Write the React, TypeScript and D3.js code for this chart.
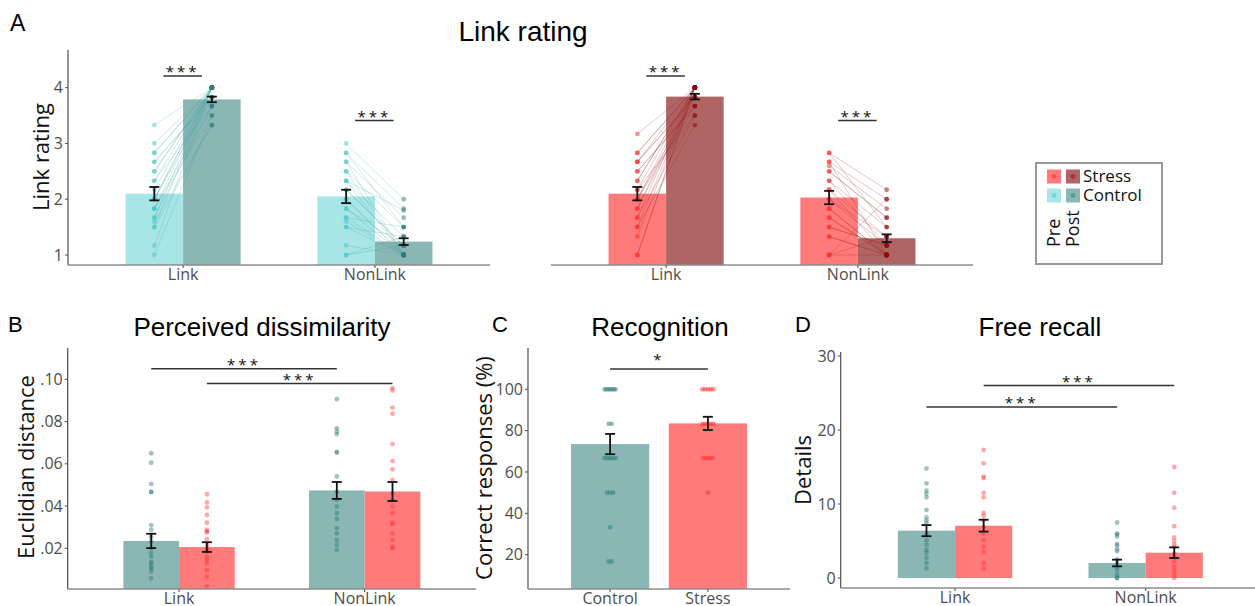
import React from 'react';
import * as d3 from 'd3';

const W = 1255;
const H = 606;

const conditions = ['Link', 'NonLink'];
const phases = ['Pre', 'Post'];
const groups = ['Control', 'Stress'];

// --- A: link rating, paired pre/post per participant ---
const ctrlLinkPre = [3.33, 3.0, 2.83, 2.67, 2.5, 2.33, 2.17, 2.0, 2.0, 1.83, 1.83, 1.67, 1.67, 1.5, 1.5, 1.17, 1.0, 2.33, 2.67, 2.0, 1.83, 2.5, 1.6, 2.83];
const ctrlLinkPost = [4, 4, 4, 3.83, 4, 3.67, 4, 4, 3.83, 4, 3.5, 4, 3.67, 4, 3.33, 4, 3.5, 4, 3.83, 4, 3.67, 4, 3.33, 4];
const ctrlNonLinkPre = [3.0, 2.83, 2.67, 2.5, 2.33, 2.17, 2.0, 1.83, 1.67, 1.6, 1.5, 1.17, 1.0, 2.83, 2.5, 2.33, 1.83, 1.0, 2.67, 2.0, 1.5, 1.67, 2.17, 2.33];
const ctrlNonLinkPost = [2.0, 1.83, 1.67, 1.5, 1.33, 1.17, 1.0, 1.0, 1.0, 1.0, 1.33, 1.0, 1.17, 1.5, 1.0, 1.0, 1.17, 1.33, 1.0, 1.0, 1.0, 1.5, 1.17, 1.8];
const stressLinkPre = [3.17, 2.83, 2.67, 2.67, 2.5, 2.33, 2.17, 2.0, 1.83, 1.67, 1.5, 1.33, 1.0, 2.5, 2.33, 2.0, 1.83, 1.67, 1.5, 2.17, 2.67, 2.83, 1.0, 2.0];
const stressLinkPost = [4, 4, 3.83, 4, 3.67, 4, 3.5, 4, 3.83, 4, 3.33, 4, 4, 3.67, 4, 3.83, 4, 3.5, 4, 4, 3.83, 4, 4, 3.67];
const stressNonLinkPre = [2.83, 2.67, 2.6, 2.5, 2.33, 2.17, 2.0, 1.83, 1.67, 1.5, 1.33, 1.0, 2.83, 2.67, 2.33, 2.0, 1.83, 1.67, 1.5, 1.0, 2.5, 2.17, 1.33, 1.0];
const stressNonLinkPost = [2.17, 2.0, 1.83, 1.67, 1.5, 1.33, 1.17, 1.0, 1.0, 1.17, 1.0, 1.33, 1.5, 1.0, 1.17, 1.33, 1.0, 1.0, 1.17, 1.0, 1.67, 1.0, 1.0, 2.0];

const ratingCtrlPreMean = [2.1, 2.05];
const ratingCtrlPostMean = [3.79, 1.24];
const ratingStressPreMean = [2.1, 2.03];
const ratingStressPostMean = [3.84, 1.3];
const ratingCtrlPreSem = [0.12, 0.12];
const ratingCtrlPostSem = [0.05, 0.06];
const ratingStressPreSem = [0.12, 0.12];
const ratingStressPostSem = [0.05, 0.07];
const ratingSigLevel = [4.21, 3.41];
const ratingTicks = [1, 2, 3, 4];

// --- B: perceived dissimilarity ---
const dissimCtrlLink = [0.065, 0.0605, 0.0505, 0.0467, 0.0467, 0.031, 0.0288, 0.0255, 0.0232, 0.02, 0.0178, 0.016, 0.0135, 0.0128, 0.0112, 0.0105, 0.009, 0.0058];
const dissimStressLink = [0.0456, 0.0417, 0.0394, 0.0358, 0.0321, 0.0287, 0.028, 0.0276, 0.0243, 0.0216, 0.02, 0.019, 0.0185, 0.0161, 0.0145, 0.0129, 0.0098, 0.0066, 0.0022];
const dissimCtrlNonLink = [0.0906, 0.0768, 0.0753, 0.0741, 0.0657, 0.0653, 0.054, 0.0468, 0.0429, 0.0397, 0.0366, 0.0339, 0.0295, 0.0271, 0.024, 0.0216, 0.0192];
const dissimStressNonLink = [0.0958, 0.0947, 0.0866, 0.0837, 0.0694, 0.0613, 0.0574, 0.0524, 0.0461, 0.0429, 0.0397, 0.0366, 0.0321, 0.0315, 0.0271, 0.024, 0.0208, 0.02];
const dissimCtrlMean = [0.0235, 0.0474];
const dissimStressMean = [0.0206, 0.0469];
const dissimCtrlSem = [0.0034, 0.004];
const dissimStressSem = [0.0023, 0.0045];
const dissimTicks = [0.02, 0.04, 0.06, 0.08, 0.1];

// --- C: recognition ---
const recogControl = [100, 100, 100, 100, 100, 100, 100, 83.3, 83.3, 66.7, 66.7, 66.7, 66.7, 66.7, 50, 50, 50, 33.3, 16.7, 16.7];
const recogStress = [100, 100, 100, 100, 100, 83.3, 83.3, 83.3, 83.3, 83.3, 66.7, 66.7, 66.7, 66.7, 50];
const recogMean = [73.5, 83.5];
const recogSem = [4.9, 3.2];
const recogTicks = [20, 40, 60, 80, 100];

// --- D: free recall ---
const recallCtrlLink = [14.8, 12.8, 11.8, 11.4, 10.9, 9.2, 8.2, 7.8, 7.4, 6.0, 5.1, 4.5, 3.8, 3.4, 2.7, 2.0, 1.3];
const recallStressLink = [17.3, 15.5, 13.7, 13.5, 11.5, 10.9, 8.8, 8.4, 7.8, 6.9, 6.0, 5.1, 4.2, 3.5, 2.0, 1.3];
const recallCtrlNonLink = [7.5, 6.0, 5.9, 5.6, 4.6, 4.4, 3.9, 3.6, 2.5, 2.0, 1.5, 1.1, 0.5, 0, 0];
const recallStressNonLink = [15.0, 11.5, 9.5, 7.0, 5.5, 5.0, 4.5, 4.2, 3.3, 2.8, 2.2, 1.5, 1.0, 0.5, 0];
const recallCtrlMean = [6.4, 2.03];
const recallStressMean = [7.07, 3.42];
const recallCtrlSem = [0.75, 0.45];
const recallStressSem = [0.8, 0.72];
const recallTicks = [0, 10, 20, 30];

const LBL = "'Open Sans', 'DejaVu Sans', sans-serif";
const TTL = "'Liberation Sans', Arial, sans-serif";

const CTRL_PRE = '#a7e5e6';
const CTRL_BAR = '#8ab6b4';
const STRESS_BAR = '#ff7b7b';
const STRESS_POST = '#b06565';
const CTRL_PRE_PT = '#48c6c8';
const CTRL_PT = '#2d7b78';
const STRESS_PT = '#ff2a2a';
const STRESS_POST_PT = '#8b0a0a';

function YAxis({ y, x, top, bottom, ticks, fmt }) {
  return (
    <g>
      <line x1={x} x2={x} y1={top} y2={bottom} stroke="#4d4d4d" strokeWidth={1.2} />
      {ticks.map(t => (
        <g key={t}>
          <line x1={x - 3} x2={x} y1={y(t)} y2={y(t)} stroke="#4d4d4d" strokeWidth={1} />
          <text x={x - 5} y={y(t)} dy="0.35em" textAnchor="end" fontFamily={LBL} fontSize={16} fill="#4d4d4d">{fmt(t)}</text>
        </g>
      ))}
    </g>
  );
}

function XAxis({ band, y, x1, x2 }) {
  return (
    <g>
      <line x1={x1} x2={x2} y1={y} y2={y} stroke="#8c8c8c" strokeWidth={1.5} />
      {band.domain().map(d => {
        const cx = band(d) + band.bandwidth() / 2;
        return (
          <g key={d}>
            <line x1={cx} x2={cx} y1={y} y2={y + 3} stroke="#4d4d4d" />
            <text x={cx} y={y + 15} textAnchor="middle" fontFamily={LBL} fontSize={16} fill="#4d4d4d">{d}</text>
          </g>
        );
      })}
    </g>
  );
}

function ErrBar({ x, y, m, s }) {
  const a = y(m - s), b = y(m + s);
  return (
    <g stroke="#111" strokeWidth={1.8}>
      <line x1={x} x2={x} y1={a} y2={b} />
      <line x1={x - 5} x2={x + 5} y1={a} y2={a} />
      <line x1={x - 5} x2={x + 5} y1={b} y2={b} />
    </g>
  );
}

function Sig({ xa, xb, yy, label, off = 1 }) {
  return (
    <g>
      <line x1={xa} x2={xb} y1={yy} y2={yy} stroke="#333" strokeWidth={1.5} />
      <text x={(xa + xb) / 2} y={yy + off} textAnchor="middle" fontFamily={LBL} fontSize={15} letterSpacing={3} fill="#111">{label}</text>
    </g>
  );
}

function RatingPanel({ x0, x1, pre, post, preMean, postMean, preSem, postSem, cols, showY }) {
  const outer = d3.scaleBand().domain(conditions).range([x0, x1]).paddingInner(0.4).paddingOuter(0.3);
  const inner = d3.scaleBand().domain(phases).range([0, outer.bandwidth()]);
  const y = d3.scaleLinear().domain([1, 4]).range([255, 87.7]);
  const axisY = 265;
  return (
    <g>
      {conditions.map((c, ci) => {
        const bx = outer(c);
        const px = bx + inner('Pre') + inner.bandwidth() / 2;
        const qx = bx + inner('Post') + inner.bandwidth() / 2;
        return (
          <g key={c}>
            <rect x={bx + inner('Pre')} width={inner.bandwidth()} y={y(preMean[ci])} height={axisY - y(preMean[ci])} fill={cols.preBar} />
            <rect x={bx + inner('Post')} width={inner.bandwidth()} y={y(postMean[ci])} height={axisY - y(postMean[ci])} fill={cols.postBar} />
            {pre[ci].map((v, i) => (
              <line key={'l' + i} x1={px} x2={qx} y1={y(v)} y2={y(post[ci][i])} stroke={cols.line} strokeOpacity={0.3} strokeWidth={0.8} />
            ))}
            {pre[ci].map((v, i) => <circle key={'p' + i} cx={px} cy={y(v)} r={2.4} fill={cols.prePt} fillOpacity={0.5} />)}
            {post[ci].map((v, i) => <circle key={'q' + i} cx={qx} cy={y(v)} r={2.4} fill={cols.postPt} fillOpacity={0.5} />)}
            <ErrBar x={px} y={y} m={preMean[ci]} s={preSem[ci]} />
            <ErrBar x={qx} y={y} m={postMean[ci]} s={postSem[ci]} />
            <Sig xa={px + 9} xb={qx - 10} yy={y(ratingSigLevel[ci])} label="***" />
          </g>
        );
      })}
      {showY && <YAxis y={y} x={x0} top={50} bottom={axisY} ticks={ratingTicks} fmt={d => String(d)} />}
      <XAxis band={outer} y={axisY} x1={x0} x2={x1} />
    </g>
  );
}

function GroupPanel({ x0, x1, y, axisY, top, ticks, fmt, ctrlPts, stressPts, ctrlMean, stressMean, ctrlSem, stressSem, sigs }) {
  const outer = d3.scaleBand().domain(conditions).range([x0, x1]).paddingInner(0.4).paddingOuter(0.3);
  const inner = d3.scaleBand().domain(groups).range([0, outer.bandwidth()]);
  const cx = (c, g) => outer(c) + inner(g) + inner.bandwidth() / 2;
  const base = Math.min(axisY, y(0));
  return (
    <g>
      {conditions.map((c, ci) => (
        <g key={c}>
          <rect x={outer(c) + inner('Control')} width={inner.bandwidth()} y={y(ctrlMean[ci])} height={base - y(ctrlMean[ci])} fill={CTRL_BAR} />
          <rect x={outer(c) + inner('Stress')} width={inner.bandwidth()} y={y(stressMean[ci])} height={base - y(stressMean[ci])} fill={STRESS_BAR} />
          {ctrlPts[ci].map((v, i) => <circle key={'c' + i} cx={cx(c, 'Control')} cy={y(v)} r={2.4} fill={CTRL_PT} fillOpacity={0.45} />)}
          {stressPts[ci].map((v, i) => <circle key={'s' + i} cx={cx(c, 'Stress')} cy={y(v)} r={2.4} fill={STRESS_PT} fillOpacity={0.4} />)}
          <ErrBar x={cx(c, 'Control')} y={y} m={ctrlMean[ci]} s={ctrlSem[ci]} />
          <ErrBar x={cx(c, 'Stress')} y={y} m={stressMean[ci]} s={stressSem[ci]} />
        </g>
      ))}
      {sigs.map((s, i) => (
        <Sig key={i} xa={cx('Link', s.g)} xb={cx('NonLink', s.g)} yy={y(s.v)} label="***" />
      ))}
      <YAxis y={y} x={x0} top={top} bottom={axisY} ticks={ticks} fmt={fmt} />
      <XAxis band={outer} y={axisY} x1={x0} x2={x1} />
    </g>
  );
}

function RecogPanel() {
  const x = d3.scaleBand().domain(groups).range([528, 790]).paddingInner(0.2).paddingOuter(0.44);
  const y = d3.scaleLinear().domain([0, 100]).range([596, 389.3]);
  const axisY = 589;
  const pts = [recogControl, recogStress];
  const cols = [[CTRL_BAR, CTRL_PT], [STRESS_BAR, STRESS_PT]];
  return (
    <g>
      {groups.map((g, gi) => {
        const c = x(g) + x.bandwidth() / 2;
        const counts = d3.rollup(pts[gi], v => v.length, d => d);
        const seen = new Map();
        return (
          <g key={g}>
            <rect x={x(g)} width={x.bandwidth()} y={y(recogMean[gi])} height={axisY - y(recogMean[gi])} fill={cols[gi][0]} />
            {pts[gi].map((v, i) => {
              const k = seen.get(v) || 0;
              seen.set(v, k + 1);
              const n = counts.get(v);
              const dx = (k - (n - 1) / 2) * Math.min(3, 11 / Math.max(1, n - 1));
              return <circle key={i} cx={c + dx} cy={y(v)} r={2.4} fill={cols[gi][1]} fillOpacity={0.5} />;
            })}
            <ErrBar x={c} y={y} m={recogMean[gi]} s={recogSem[gi]} />
          </g>
        );
      })}
      <Sig xa={x('Control') + x.bandwidth() / 2} xb={x('Stress') + x.bandwidth() / 2} yy={y(109.8)} label="*" off={-4} />
      <YAxis y={y} x={528} top={348} bottom={axisY} ticks={recogTicks} fmt={d => String(d)} />
      <XAxis band={x} y={axisY} x1={528} x2={790} />
    </g>
  );
}

function Legend() {
  const rows = [
    { label: 'Stress', pre: [STRESS_BAR, STRESS_PT], post: [STRESS_POST, STRESS_POST_PT] },
    { label: 'Control', pre: [CTRL_PRE, CTRL_PRE_PT], post: [CTRL_BAR, CTRL_PT] },
  ];
  return (
    <g>
      <rect x={1036} y={163} width={126} height={101} fill="#fff" stroke="#999" strokeWidth={2} />
      {rows.map((r, i) => {
        const ty = 169.5 + i * 19;
        return (
          <g key={r.label}>
            <rect x={1047} y={ty} width={14} height={14} fill={r.pre[0]} />
            <circle cx={1054} cy={ty + 7} r={2.4} fill={r.pre[1]} fillOpacity={0.5} />
            <rect x={1066} y={ty} width={14} height={14} fill={r.post[0]} />
            <circle cx={1073} cy={ty + 7} r={2.4} fill={r.post[1]} fillOpacity={0.5} />
            <text x={1083} y={ty + 12.5} fontFamily={LBL} fontSize={17} fill="#111">{r.label}</text>
          </g>
        );
      })}
      <text transform="translate(1060,247) rotate(-90)" fontFamily={LBL} fontSize={18} fill="#111">Pre</text>
      <text transform="translate(1079,247) rotate(-90)" fontFamily={LBL} fontSize={18} fill="#111">Post</text>
    </g>
  );
}

export default function App() {
  const yB = d3.scaleLinear().domain([0, 0.1]).range([590.6, 379.3]);
  const yD = d3.scaleLinear().domain([0, 30]).range([578, 356]);
  return (
    <svg width={W} height={H} style={{ position: 'absolute', left: 0, top: 0, background: '#fff' }}>
      <rect width={W} height={H} fill="#fff" />
      <text x={10} y={31} fontFamily={TTL} fontSize={23} fill="#000">A</text>
      <text x={523} y={41} textAnchor="middle" fontFamily={TTL} fontSize={28} fill="#000">Link rating</text>
      <text transform="translate(49,157) rotate(-90)" textAnchor="middle" fontFamily={LBL} fontSize={22} fill="#111">Link rating</text>
      <RatingPanel x0={68} x1={490}
        pre={[ctrlLinkPre, ctrlNonLinkPre]} post={[ctrlLinkPost, ctrlNonLinkPost]}
        preMean={ratingCtrlPreMean} postMean={ratingCtrlPostMean} preSem={ratingCtrlPreSem} postSem={ratingCtrlPostSem}
        cols={{ preBar: CTRL_PRE, postBar: CTRL_BAR, prePt: CTRL_PRE_PT, postPt: CTRL_PT, line: '#3a9f9f' }} showY />
      <RatingPanel x0={551} x1={973}
        pre={[stressLinkPre, stressNonLinkPre]} post={[stressLinkPost, stressNonLinkPost]}
        preMean={ratingStressPreMean} postMean={ratingStressPostMean} preSem={ratingStressPreSem} postSem={ratingStressPostSem}
        cols={{ preBar: STRESS_BAR, postBar: STRESS_POST, prePt: STRESS_PT, postPt: STRESS_POST_PT, line: '#9a1a1a' }} showY={false} />
      <Legend />

      <text x={8} y={332} fontFamily={TTL} fontSize={22} fill="#000">B</text>
      <text x={262} y={336} textAnchor="middle" fontFamily={TTL} fontSize={26} fill="#000">Perceived dissimilarity</text>
      <text transform="translate(34,467) rotate(-90)" textAnchor="middle" fontFamily={LBL} fontSize={22} fill="#111">Euclidian distance</text>
      <GroupPanel x0={67.7} x1={476} y={yB} axisY={589} top={348} ticks={dissimTicks}
        fmt={d => d3.format('.2f')(d).replace(/^0/, '')}
        ctrlPts={[dissimCtrlLink, dissimCtrlNonLink]} stressPts={[dissimStressLink, dissimStressNonLink]}
        ctrlMean={dissimCtrlMean} stressMean={dissimStressMean} ctrlSem={dissimCtrlSem} stressSem={dissimStressSem}
        sigs={[{ g: 'Control', v: 0.105 }, { g: 'Stress', v: 0.098 }]} />

      <text x={492} y={332} fontFamily={TTL} fontSize={22} fill="#000">C</text>
      <text x={660} y={336} textAnchor="middle" fontFamily={TTL} fontSize={26} fill="#000">Recognition</text>
      <text transform="translate(492,468) rotate(-90)" textAnchor="middle" fontFamily={LBL} fontSize={22} fill="#111">Correct responses (%)</text>
      <RecogPanel />

      <text x={795} y={332} fontFamily={TTL} fontSize={22} fill="#000">D</text>
      <text x={1040} y={336} textAnchor="middle" fontFamily={TTL} fontSize={26} fill="#000">Free recall</text>
      <text transform="translate(811,470) rotate(-90)" textAnchor="middle" fontFamily={LBL} fontSize={22} fill="#111">Details</text>
      <GroupPanel x0={840.7} x1={1260} y={yD} axisY={588} top={352} ticks={recallTicks}
        fmt={d => String(d)}
        ctrlPts={[recallCtrlLink, recallCtrlNonLink]} stressPts={[recallStressLink, recallStressNonLink]}
        ctrlMean={recallCtrlMean} stressMean={recallStressMean} ctrlSem={recallCtrlSem} stressSem={recallStressSem}
        sigs={[{ g: 'Control', v: 23.1 }, { g: 'Stress', v: 26.0 }]} />
    </svg>
  );
}
